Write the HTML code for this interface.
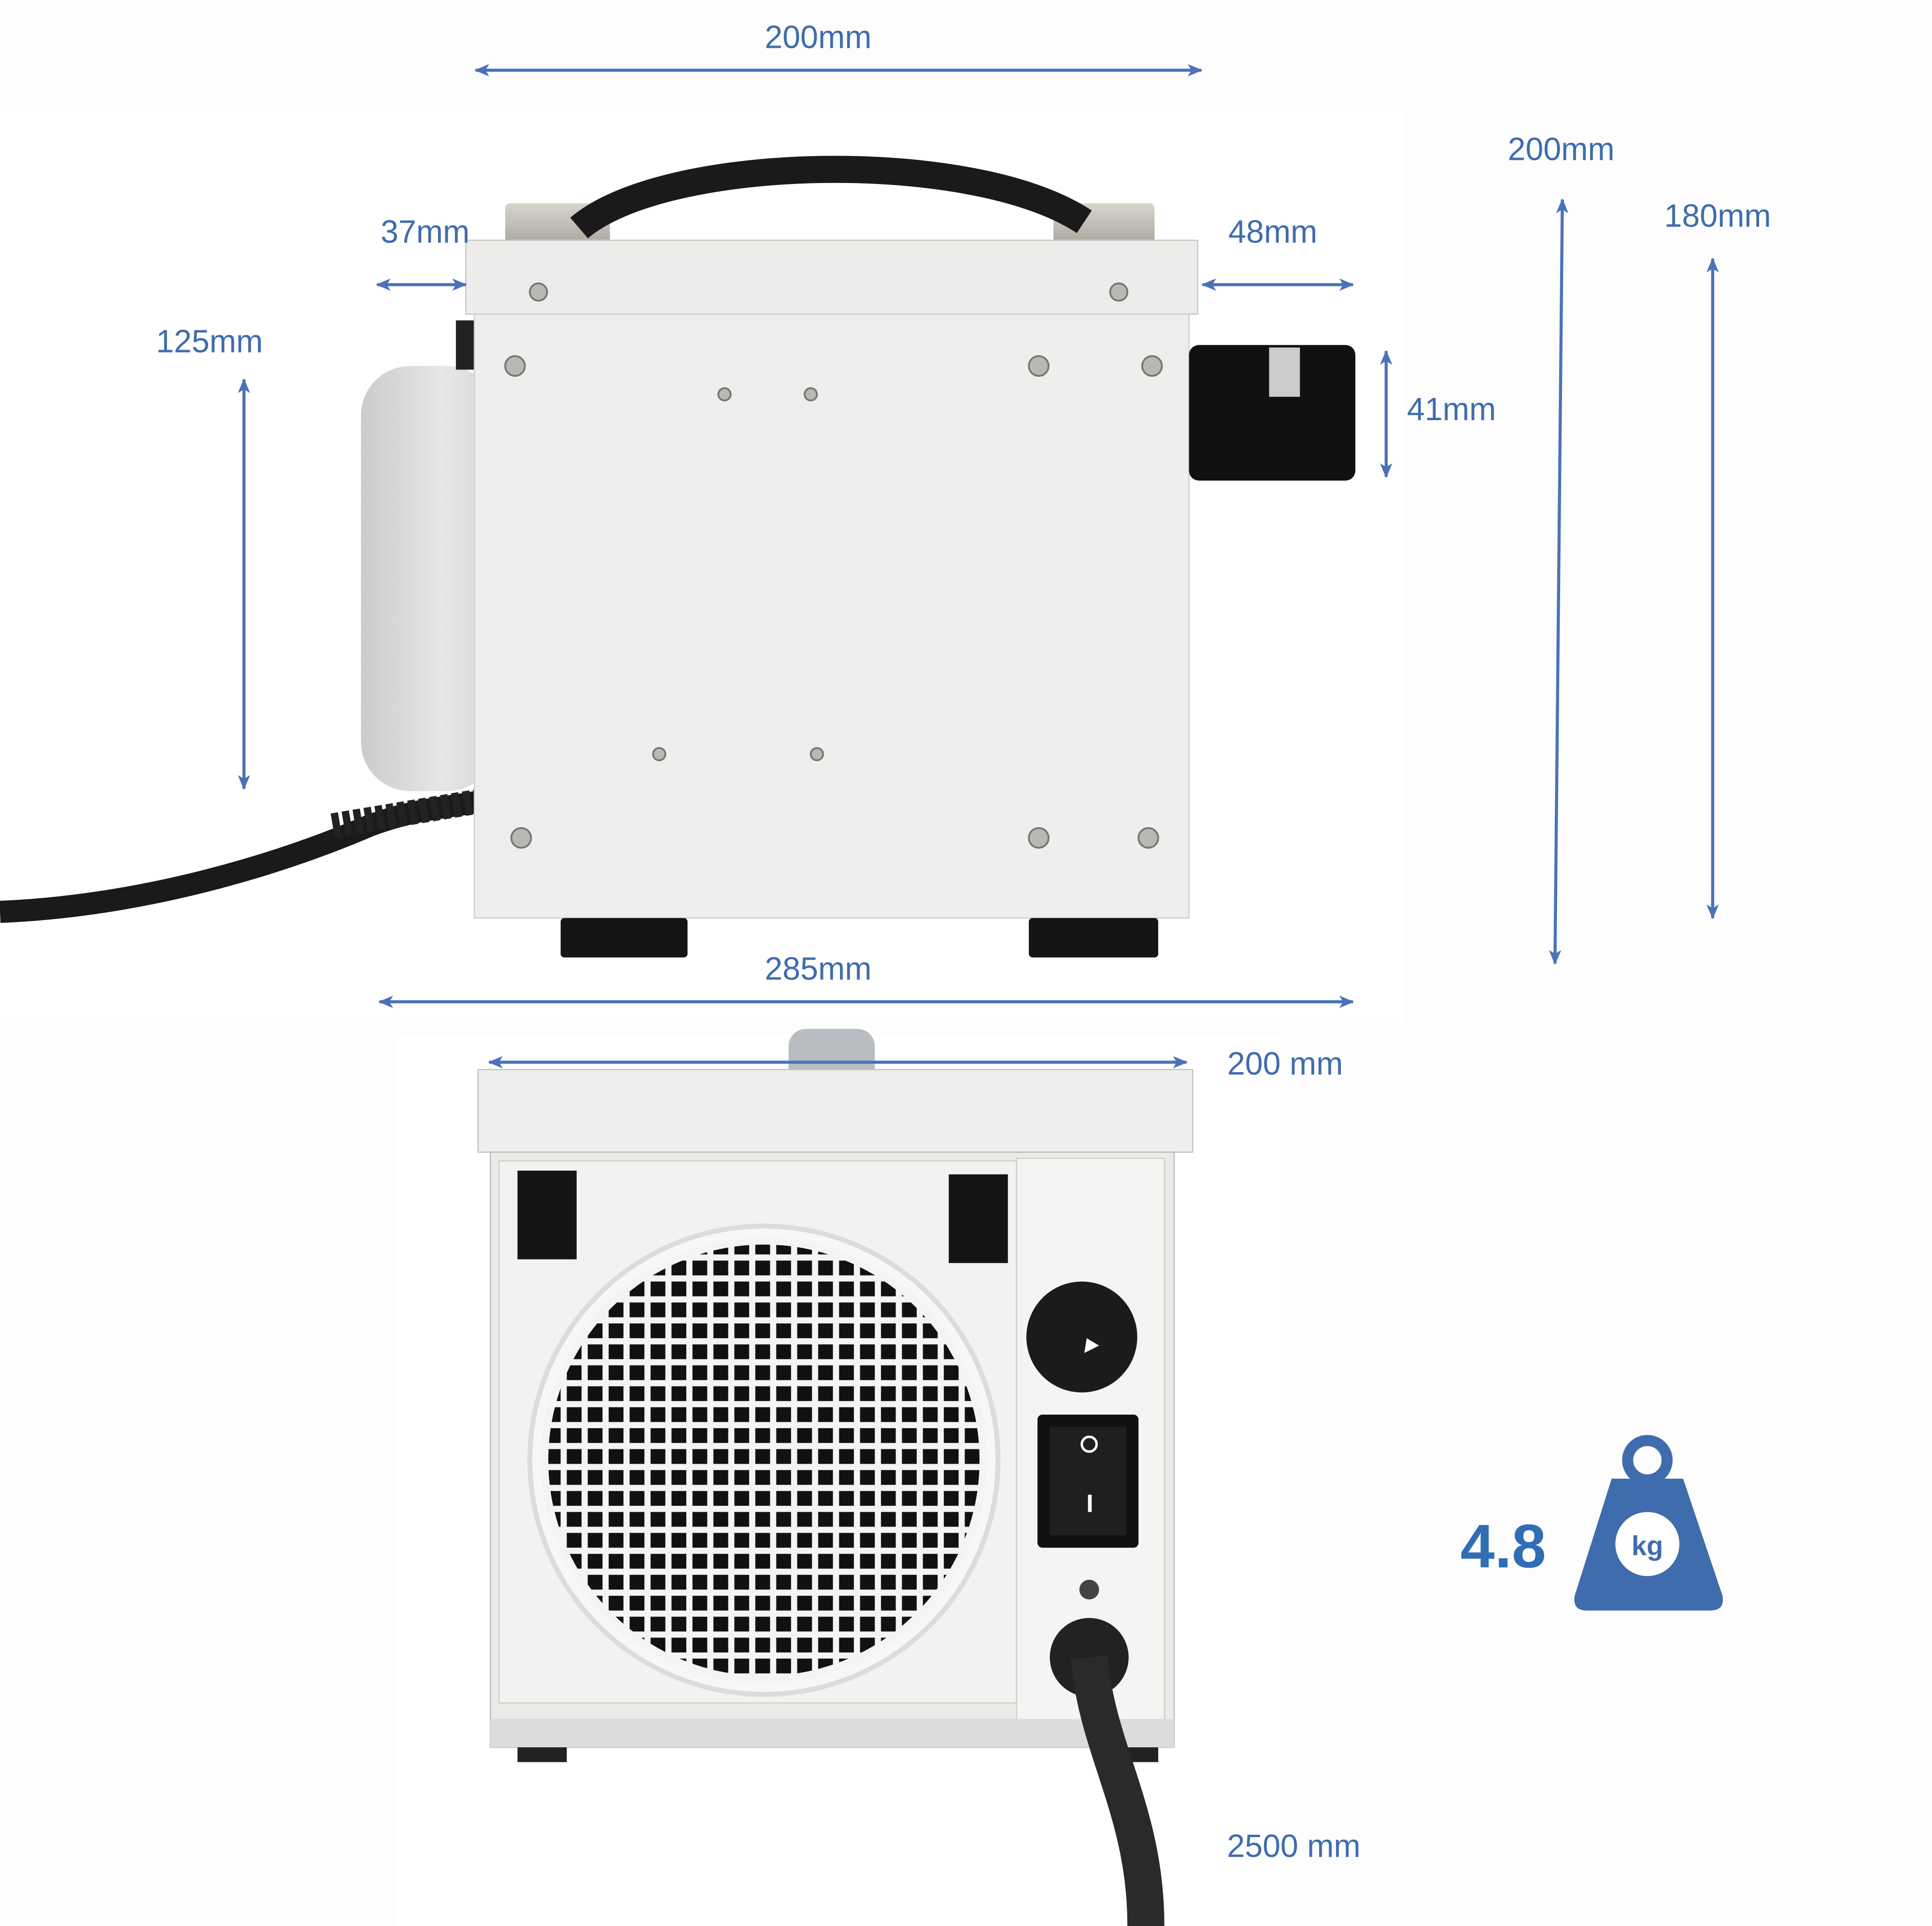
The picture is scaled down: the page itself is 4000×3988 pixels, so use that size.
<!DOCTYPE html>
<html><head><meta charset="utf-8"><style>
html,body{margin:0;padding:0;background:#fff;}
svg{display:block;}
text{font-family:"Liberation Sans",sans-serif;fill:#3f6cad;}
</style></head><body>
<svg width="4000" height="3988" viewBox="0 0 1568 1563" preserveAspectRatio="none" xmlns="http://www.w3.org/2000/svg">
<defs>
<marker id="a" markerWidth="12" markerHeight="10" refX="11" refY="5" orient="auto-start-reverse" markerUnits="userSpaceOnUse"><path d="M0,0 L12,5 L0,10 L3,5 Z" fill="#4a72b8"/></marker>
<linearGradient id="fan" x1="0" x2="1"><stop offset="0" stop-color="#c9ccca"/><stop offset="0.6" stop-color="#e6e8e6"/><stop offset="1" stop-color="#d4d6d4"/></linearGradient>
<linearGradient id="met" x1="0" x2="0" y1="0" y2="1"><stop offset="0" stop-color="#d8d5cc"/><stop offset="1" stop-color="#a8a59c"/></linearGradient>
<pattern id="grid" width="17" height="17" patternUnits="userSpaceOnUse" x="440" y="1020"><rect width="17" height="17" fill="#f4f4f4"/><rect x="3" y="3" width="12" height="12" fill="#111"/></pattern>
</defs>
<rect width="1568" height="1563" fill="#fdfdfd"/>
<rect x="0" y="90" width="1140" height="740" fill="#fff"/>
<rect x="320" y="840" width="720" height="723" fill="#fff"/>

<!-- side view -->
<path d="M0,740 C120,735 230,700 300,670 C340,655 370,655 390,650" stroke="#1a1a1a" stroke-width="18" fill="none"/>
<path d="M270,670 L390,650" stroke="#222" stroke-width="20" stroke-dasharray="6,3" fill="none"/>
<rect x="293" y="297" width="110" height="345" rx="40" fill="url(#fan)"/>
<rect x="370" y="260" width="15" height="40" fill="#222"/>
<rect x="410" y="165" width="85" height="35" rx="4" fill="url(#met)"/>
<rect x="855" y="165" width="82" height="35" rx="4" fill="url(#met)"/>
<path d="M470,185 C540,125 790,120 880,180" stroke="#1a1a1a" stroke-width="22" fill="none"/>
<rect x="378" y="195" width="594" height="60" fill="#ecedea" stroke="#c8c9c6"/>
<rect x="385" y="255" width="580" height="490" fill="#eeefed" stroke="#cfd0cd"/>
<rect x="965" y="280" width="135" height="110" rx="8" fill="#111"/>
<rect x="1030" y="282" width="25" height="40" fill="#ccc"/>
<rect x="455" y="745" width="103" height="32" rx="3" fill="#151515"/>
<rect x="835" y="745" width="105" height="32" rx="3" fill="#151515"/>
<g fill="#b8b8b5" stroke="#777" stroke-width="1.5">
<circle cx="437" cy="237" r="7"/><circle cx="908" cy="237" r="7"/><circle cx="418" cy="297" r="8"/><circle cx="843" cy="297" r="8"/><circle cx="935" cy="297" r="8"/>
<circle cx="588" cy="320" r="5"/><circle cx="658" cy="320" r="5"/><circle cx="535" cy="612" r="5"/><circle cx="663" cy="612" r="5"/>
<circle cx="423" cy="680" r="8"/><circle cx="843" cy="680" r="8"/><circle cx="932" cy="680" r="8"/>
</g>

<!-- front view -->
<rect x="640" y="835" width="70" height="50" rx="14" fill="#b9bcc0"/>
<rect x="388" y="868" width="580" height="67" fill="#eeefed" stroke="#c4c5c2"/>
<rect x="398" y="935" width="555" height="483" fill="#eaebe8" stroke="#bdbebb"/>
<rect x="405" y="942" width="420" height="440" fill="#f2f2f0" stroke="#d0d0cd"/>
<rect x="825" y="940" width="120" height="470" fill="#f4f4f2" stroke="#d0d0cd"/>
<rect x="398" y="1395" width="555" height="23" fill="#dcddda"/>
<rect x="420" y="950" width="48" height="72" fill="#151515"/>
<rect x="770" y="953" width="48" height="72" fill="#151515"/>
<circle cx="620" cy="1185" r="190" fill="#f7f7f7" stroke="#dcdcdc" stroke-width="4"/>
<circle cx="620" cy="1185" r="178" fill="url(#grid)"/>
<circle cx="620" cy="1185" r="178" fill="none" stroke="#f4f4f4" stroke-width="6"/>
<circle cx="878" cy="1085" r="45" fill="#1b1b1b"/>
<path d="M892,1092 L880,1098 L882,1086 Z" fill="#fff"/>
<rect x="842" y="1148" width="82" height="108" rx="4" fill="#111"/>
<rect x="852" y="1158" width="62" height="88" fill="#1f1f1f"/>
<circle cx="884" cy="1172" r="6" fill="none" stroke="#fff" stroke-width="2"/>
<rect x="883" y="1213" width="3" height="14" fill="#fff"/>
<circle cx="884" cy="1290" r="8" fill="#444"/>
<rect x="420" y="1418" width="40" height="12" fill="#222"/><rect x="900" y="1418" width="40" height="12" fill="#222"/>
<circle cx="884" cy="1345" r="32" fill="#222"/>
<path d="M884,1345 C890,1420 930,1470 930,1563" stroke="#2a2a2a" stroke-width="30" fill="none"/>

<!-- weight -->
<circle cx="1337" cy="1185" r="16" fill="none" stroke="#3f6cad" stroke-width="9"/>
<path d="M1308,1200 L1366,1200 L1398,1295 Q1400,1307 1388,1307 L1288,1307 Q1276,1307 1278,1295 Z" fill="#3f6cad"/>
<circle cx="1337" cy="1253" r="26" fill="#fff"/>
<text x="1337" y="1262" font-size="22" font-weight="bold" text-anchor="middle" style="fill:#3f6cad">kg</text>
<text x="1220" y="1272" font-size="50" font-weight="bold" text-anchor="middle" style="fill:#2f6db5">4.8</text>

<!-- dimension lines -->
<g stroke="#4a72b8" stroke-width="2.5" marker-start="url(#a)" marker-end="url(#a)">
<line x1="386" y1="57" x2="975" y2="57"/>
<line x1="306" y1="231" x2="378" y2="231"/>
<line x1="976" y1="231" x2="1098" y2="231"/>
<line x1="198" y1="308" x2="198" y2="640"/>
<line x1="1125" y1="285" x2="1125" y2="387"/>
<line x1="1268" y1="162" x2="1262" y2="782"/>
<line x1="1390" y1="210" x2="1390" y2="745"/>
<line x1="308" y1="813" x2="1098" y2="813"/>
<line x1="397" y1="862" x2="963" y2="862"/>
</g>
<g font-size="26" text-anchor="middle">
<text x="664" y="39">200mm</text>
<text x="345" y="197">37mm</text>
<text x="1033" y="197">48mm</text>
<text x="170" y="286">125mm</text>
<text x="1178" y="341">41mm</text>
<text x="1267" y="130">200mm</text>
<text x="1394" y="184">180mm</text>
<text x="664" y="795">285mm</text>
<text x="1043" y="872">200 mm</text>
<text x="1050" y="1507">2500 mm</text>
</g>
</svg>
</body></html>
